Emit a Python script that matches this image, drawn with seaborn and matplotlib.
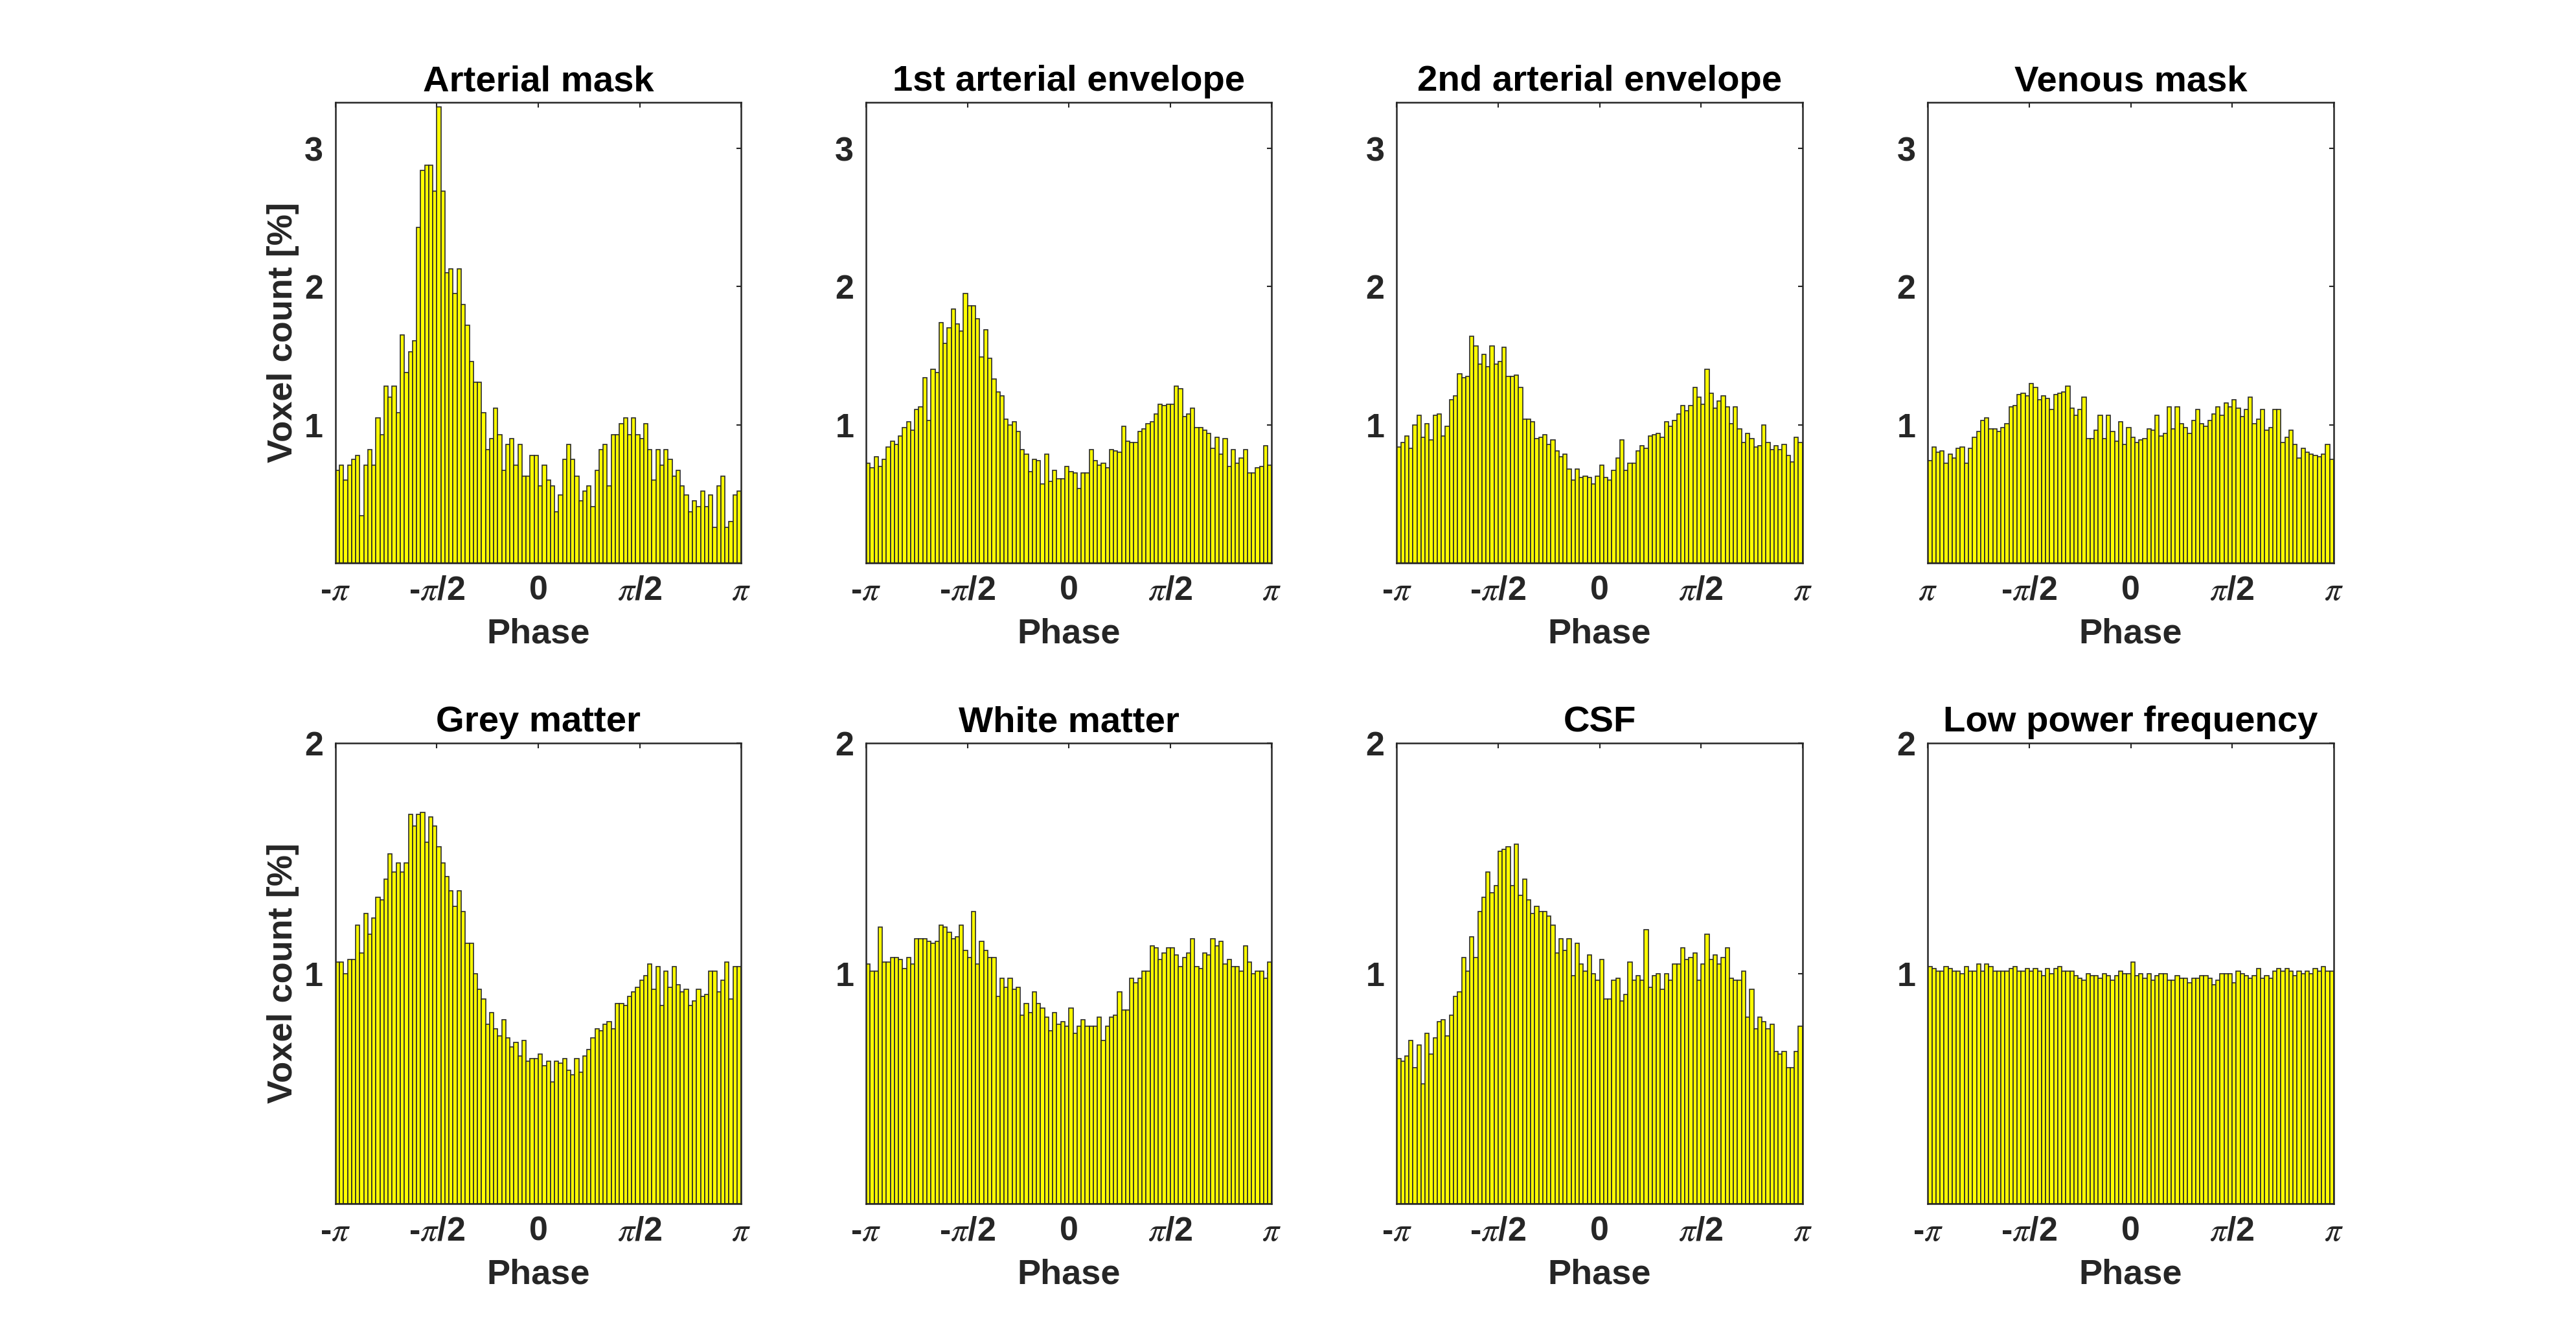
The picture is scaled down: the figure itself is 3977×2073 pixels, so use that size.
import numpy as np
import pandas as pd
import matplotlib
matplotlib.use('Agg')
import matplotlib.pyplot as plt
import seaborn as sns

# phase histograms, 100 bins over [-pi, pi], values in % of voxels
titles = ['Arterial mask', '1st arterial envelope', '2nd arterial envelope', 'Venous mask',
          'Grey matter', 'White matter', 'CSF', 'Low power frequency']

arterial_mask = [0.67, 0.71, 0.60, 0.71, 0.75, 0.78, 0.34, 0.71, 0.82, 0.71,
                 1.05, 0.93, 1.28, 1.20, 1.28, 1.09, 1.65, 1.38, 1.53, 1.61,
                 2.43, 2.84, 2.88, 2.88, 2.69, 3.30, 2.69, 2.10, 2.13, 1.95,
                 2.13, 1.87, 1.72, 1.46, 1.31, 1.31, 1.09, 0.82, 0.90, 1.12,
                 0.93, 0.67, 0.86, 0.90, 0.71, 0.86, 0.63, 0.63, 0.78, 0.78,
                 0.56, 0.71, 0.60, 0.56, 0.37, 0.49, 0.75, 0.86, 0.75, 0.63,
                 0.45, 0.52, 0.56, 0.41, 0.67, 0.82, 0.86, 0.56, 0.93, 0.93,
                 1.01, 1.05, 0.93, 1.05, 0.93, 0.90, 1.01, 0.82, 0.60, 0.82,
                 0.71, 0.82, 0.75, 0.63, 0.67, 0.56, 0.49, 0.37, 0.45, 0.41,
                 0.52, 0.41, 0.49, 0.26, 0.56, 0.63, 0.26, 0.30, 0.49, 0.52]

first_envelope = [0.72, 0.69, 0.77, 0.70, 0.75, 0.84, 0.88, 0.86, 0.92, 0.98,
                  1.02, 0.96, 1.11, 1.13, 1.34, 1.03, 1.40, 1.38, 1.74, 1.59,
                  1.70, 1.84, 1.73, 1.68, 1.95, 1.86, 1.86, 1.77, 1.49, 1.69,
                  1.48, 1.33, 1.24, 1.21, 1.04, 1.00, 1.02, 0.95, 0.82, 0.79,
                  0.66, 0.75, 0.74, 0.57, 0.79, 0.59, 0.67, 0.61, 0.61, 0.70,
                  0.66, 0.65, 0.54, 0.65, 0.65, 0.82, 0.74, 0.71, 0.72, 0.69,
                  0.82, 0.81, 0.80, 0.99, 0.88, 0.87, 0.87, 0.95, 0.97, 1.01,
                  1.02, 1.08, 1.15, 1.14, 1.15, 1.15, 1.28, 1.26, 1.06, 1.08,
                  1.12, 0.98, 0.98, 0.96, 0.94, 0.83, 0.91, 0.79, 0.90, 0.70,
                  0.82, 0.72, 0.76, 0.82, 0.65, 0.65, 0.69, 0.70, 0.85, 0.71]

second_envelope = [0.84, 0.87, 0.92, 0.83, 1.00, 1.07, 0.91, 1.01, 0.89, 1.07,
                   1.08, 0.92, 0.99, 1.18, 1.21, 1.37, 1.34, 1.35, 1.64, 1.57,
                   1.44, 1.51, 1.42, 1.57, 1.44, 1.46, 1.56, 1.35, 1.35, 1.36,
                   1.27, 1.04, 1.04, 1.02, 0.90, 0.91, 0.93, 0.86, 0.89, 0.81,
                   0.77, 0.79, 0.68, 0.60, 0.68, 0.62, 0.63, 0.62, 0.57, 0.63,
                   0.71, 0.62, 0.60, 0.67, 0.76, 0.89, 0.67, 0.72, 0.72, 0.81,
                   0.85, 0.83, 0.92, 0.93, 0.94, 0.91, 1.02, 0.99, 1.03, 1.08,
                   1.14, 1.10, 1.14, 1.27, 1.20, 1.15, 1.40, 1.23, 1.12, 1.17,
                   1.21, 1.13, 1.01, 1.13, 0.97, 0.87, 0.94, 0.90, 0.84, 0.85,
                   1.00, 0.87, 0.82, 0.85, 0.82, 0.86, 0.78, 0.73, 0.91, 0.87]

venous_mask = [0.74, 0.84, 0.80, 0.81, 0.72, 0.79, 0.76, 0.83, 0.84, 0.72,
               0.83, 0.91, 0.95, 1.03, 1.05, 0.97, 0.97, 0.95, 0.98, 1.01,
               1.13, 1.14, 1.22, 1.23, 1.21, 1.30, 1.27, 1.18, 1.21, 1.19,
               1.11, 1.22, 1.23, 1.24, 1.28, 1.12, 1.07, 1.11, 1.20, 0.90,
               0.90, 0.96, 1.07, 0.90, 1.07, 0.95, 0.88, 1.02, 0.86, 0.98,
               0.91, 0.87, 0.89, 0.90, 0.97, 0.96, 1.07, 0.92, 0.94, 1.13,
               0.97, 1.13, 1.01, 0.98, 0.94, 1.03, 1.11, 1.01, 0.99, 1.03,
               1.08, 1.13, 1.07, 1.16, 1.13, 1.18, 1.12, 1.06, 1.11, 1.20,
               1.01, 1.04, 1.11, 0.96, 0.98, 1.11, 1.11, 0.87, 0.91, 0.96,
               0.86, 0.76, 0.83, 0.80, 0.79, 0.78, 0.77, 0.79, 0.86, 0.75]

grey_matter = [1.05, 1.05, 1.00, 1.06, 1.06, 1.21, 1.09, 1.26, 1.17, 1.24,
               1.33, 1.32, 1.41, 1.52, 1.44, 1.48, 1.44, 1.48, 1.69, 1.64,
               1.69, 1.70, 1.57, 1.68, 1.64, 1.55, 1.48, 1.42, 1.36, 1.29,
               1.36, 1.27, 1.13, 1.13, 1.00, 0.93, 0.89, 0.78, 0.83, 0.76,
               0.73, 0.80, 0.72, 0.68, 0.70, 0.64, 0.71, 0.62, 0.63, 0.63,
               0.65, 0.60, 0.62, 0.53, 0.62, 0.61, 0.63, 0.58, 0.56, 0.63,
               0.57, 0.64, 0.67, 0.72, 0.76, 0.75, 0.78, 0.79, 0.76, 0.87,
               0.87, 0.86, 0.90, 0.92, 0.94, 0.97, 0.99, 1.04, 0.93, 1.03,
               0.86, 1.01, 0.94, 1.03, 0.95, 0.92, 0.93, 0.86, 0.88, 0.93,
               0.90, 0.91, 1.01, 1.01, 0.92, 0.97, 1.05, 0.89, 1.03, 1.03]

white_matter = [1.04, 1.01, 1.01, 1.20, 1.05, 1.05, 1.07, 1.07, 1.06, 1.02,
                1.07, 1.04, 1.15, 1.15, 1.15, 1.14, 1.13, 1.14, 1.21, 1.20,
                1.18, 1.15, 1.16, 1.21, 1.10, 1.07, 1.27, 1.04, 1.14, 1.10,
                1.07, 1.07, 0.90, 0.98, 0.94, 0.98, 0.93, 0.94, 0.82, 0.87,
                0.83, 0.92, 0.87, 0.85, 0.81, 0.75, 0.83, 0.78, 0.79, 0.77,
                0.85, 0.74, 0.77, 0.80, 0.77, 0.77, 0.77, 0.81, 0.71, 0.77,
                0.81, 0.82, 0.92, 0.84, 0.84, 0.98, 0.96, 0.98, 1.01, 1.01,
                1.12, 1.11, 1.06, 1.09, 1.11, 1.11, 1.08, 1.03, 1.07, 1.09,
                1.15, 1.03, 1.02, 1.09, 1.08, 1.15, 1.12, 1.14, 1.04, 1.06,
                1.03, 1.03, 1.01, 1.12, 1.05, 1.00, 1.01, 1.01, 0.98, 1.05]

csf = [0.63, 0.62, 0.64, 0.71, 0.59, 0.69, 0.52, 0.74, 0.65, 0.72,
       0.79, 0.80, 0.73, 0.82, 0.90, 0.92, 1.07, 1.01, 1.16, 1.07,
       1.27, 1.33, 1.44, 1.35, 1.38, 1.53, 1.54, 1.55, 1.38, 1.56,
       1.34, 1.41, 1.32, 1.26, 1.29, 1.27, 1.27, 1.25, 1.21, 1.09,
       1.15, 1.10, 1.15, 0.99, 1.13, 1.04, 1.01, 1.08, 1.00, 0.97,
       1.06, 0.89, 0.89, 0.97, 0.98, 0.88, 0.91, 1.05, 0.97, 0.99,
       0.97, 1.19, 0.94, 0.99, 1.00, 0.93, 1.00, 0.97, 1.04, 1.04,
       1.11, 1.06, 1.07, 1.09, 0.97, 1.04, 1.17, 1.06, 1.08, 1.04,
       1.07, 1.11, 0.98, 0.97, 0.97, 1.01, 0.81, 0.93, 0.76, 0.81,
       0.79, 0.76, 0.78, 0.66, 0.65, 0.66, 0.59, 0.59, 0.66, 0.77]

low_power = [1.03, 1.02, 1.01, 1.01, 1.03, 1.02, 1.01, 1.01, 1.00, 1.03,
             1.01, 1.01, 1.04, 1.01, 1.04, 1.03, 1.01, 1.01, 1.01, 1.01,
             1.02, 1.03, 1.01, 1.01, 1.02, 1.01, 1.02, 1.01, 0.99, 1.02,
             1.00, 1.02, 1.03, 1.01, 1.01, 1.01, 0.99, 0.98, 0.97, 1.00,
             0.99, 0.99, 0.98, 1.00, 0.99, 0.97, 0.99, 1.01, 1.00, 1.00,
             1.05, 0.99, 1.00, 0.98, 1.00, 0.97, 0.99, 1.00, 1.00, 0.97,
             0.97, 0.99, 0.98, 0.98, 0.96, 0.98, 0.98, 0.99, 0.99, 0.98,
             0.95, 0.97, 1.00, 1.00, 1.00, 0.96, 1.01, 1.00, 0.99, 0.98,
             0.99, 1.02, 0.98, 0.99, 0.98, 1.01, 1.02, 1.01, 1.02, 1.01,
             0.99, 1.01, 1.00, 1.01, 1.00, 1.02, 1.01, 1.03, 1.01, 1.01]

panels = [arterial_mask, first_envelope, second_envelope, venous_mask,
          grey_matter, white_matter, csf, low_power]

xtick_labels = [r'-$\pi$', r'-$\pi$/2', '0', r'$\pi$/2', r'$\pi$']
# the venous panel in the original has its first label without the minus sign
venous_xtick_labels = [r'$\pi$', r'-$\pi$/2', '0', r'$\pi$/2', r'$\pi$']
row_yticks = [[1, 2, 3], [1, 2]]
row_ylim = [3.334, 2.0]

sns.set_theme(style='white')
plt.rcParams['font.family'] = ['Liberation Sans', 'DejaVu Sans']
plt.rcParams['mathtext.fontset'] = 'stix'

n_bins = 100
edges = np.linspace(-np.pi, np.pi, n_bins + 1)
centers = (edges[:-1] + edges[1:]) / 2
ink = '#262626'

fig = plt.figure(figsize=(3977 / 300, 2073 / 300), dpi=300)
lefts = [0.1302, 0.3362, 0.5422, 0.7484]
bottoms = [0.5808, 0.1037]
width, height = 0.1575, 0.343

for k, vals in enumerate(panels):
    r, c = divmod(k, 4)
    ax = fig.add_axes([lefts[c], bottoms[r], width, height])
    df = pd.DataFrame({'phase': centers, 'pct': vals})
    sns.histplot(data=df, x='phase', weights='pct', bins=n_bins,
                 binrange=(-np.pi, np.pi), color='#ffff00',
                 edgecolor='#2a2a2a', linewidth=0.4, alpha=1, ax=ax)
    ax.set_xlim(-np.pi, np.pi)
    ax.set_ylim(0, row_ylim[r])
    ax.set_xticks([-np.pi, -np.pi / 2, 0, np.pi / 2, np.pi])
    ax.set_xticklabels(venous_xtick_labels if k == 3 else xtick_labels)
    ax.set_yticks(row_yticks[r])
    ax.tick_params(direction='in', length=1.8, width=0.5, top=True, right=True,
                   labelsize=12.5, colors=ink, pad=4.5)
    for lab in ax.get_xticklabels() + ax.get_yticklabels():
        lab.set_fontweight('bold')
    for sp in ax.spines.values():
        sp.set_color(ink)
        sp.set_linewidth(0.6)
    ax.set_title(titles[k], fontsize=13.5, fontweight='bold', color='black', pad=4.3)
    ax.set_xlabel('Phase', fontsize=13, fontweight='bold', color=ink, labelpad=4)
    if c == 0:
        ax.set_ylabel('Voxel count [%]', fontsize=13, fontweight='bold', color=ink, labelpad=2)
    else:
        ax.set_ylabel('')

fig.savefig('out.png', dpi=300, facecolor='white')
